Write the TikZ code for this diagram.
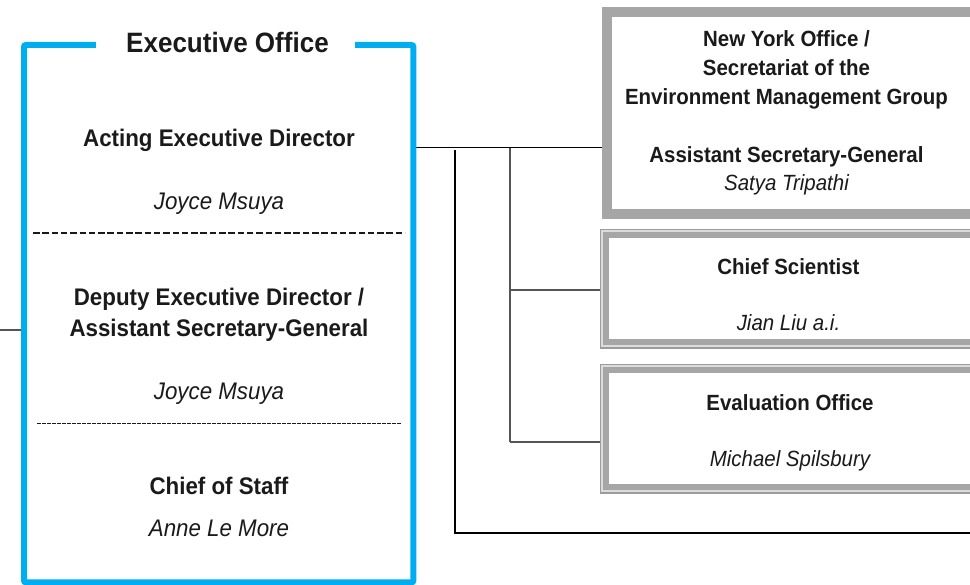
\documentclass[tikz,border=0pt]{standalone}
\usepackage{fontspec}
\setmainfont{Liberation Sans}[FakeStretch=0.93]
\usetikzlibrary{calc}
\definecolor{uneblue}{HTML}{00AEEF}
\definecolor{boxgray}{HTML}{A6A6A6}
\definecolor{edgegray}{HTML}{9C9C9C}
\definecolor{gapgray}{HTML}{DCDCDC}
\definecolor{linegray}{HTML}{555555}
\definecolor{txt}{HTML}{1A1A1A}
\begin{document}
\begin{tikzpicture}[x=1pt,y=-1pt,
  every node/.style={text=txt},
  titletext/.style={font=\fontsize{28}{32}\selectfont\bfseries, anchor=base, inner sep=0},
  role/.style={font=\fontsize{24}{30}\selectfont\bfseries, anchor=base, inner sep=0},
  person/.style={font=\fontsize{24}{30}\selectfont\itshape, anchor=base, inner sep=0},
  rrole/.style={font=\fontsize{22}{28}\selectfont\bfseries, anchor=base, inner sep=0},
  rperson/.style={font=\fontsize{22}{28}\selectfont\itshape, anchor=base, inner sep=0},
  blueframe/.style={draw=uneblue, line width=6, rounded corners=2},
  nybox/.style={draw=boxgray, line width=10, fill=white, anchor=north west, inner sep=0},
  dblbox/.style={draw=edgegray, line width=1.5, fill=gapgray, anchor=north west, inner sep=0},
  thickdash/.style={draw=txt, line width=2.6, dash pattern=on 6.5 off 2.8},
  thindash/.style={draw=txt, line width=1, dash pattern=on 3.6 off 1.4},
  link/.style={draw=black, line width=1},
  branch/.style={draw=linegray, line width=1.3},
  stub/.style={draw=linegray, line width=1.3},
  bracket/.style={draw=black, line width=2.6}
]
\useasboundingbox (0,0) rectangle (970,585);
\begin{scope}
\clip (0,0) rectangle (970,585);

% frame area of the executive office
\node[anchor=north west, minimum width=389, minimum height=537, inner sep=0] (exec) at (24,45) {};

% helper coordinates
\coordinate (hubY) at (0,148);
\coordinate (stubL) at (0,330);
\coordinate (tb) at (455,150);
\coordinate (tbEnd) at (980,533);
\coordinate (tv) at (510,148);
\coordinate (br1) at (510,290);
\coordinate (br2) at (510,442);

% right-hand boxes
\node[nybox, minimum width=380, minimum height=202] (ny) at (602,7) {};
\node[dblbox, minimum width=400, minimum height=118.5] (cs) at (599.75,228.75) {};
\draw[draw=boxgray, line width=6, fill=white]
  ($(cs.north west)+(6.5,6.5)$) rectangle ($(cs.south east)+(-6.5,-6.5)$);
\node[dblbox, minimum width=400, minimum height=128.5] (eo) at (599.75,363.75) {};
\draw[draw=boxgray, line width=6, fill=white]
  ($(eo.north west)+(6.5,6.5)$) rectangle ($(eo.south east)+(-6.5,-6.5)$);

% connectors
\draw[stub] (stubL) -- (stubL -| exec.west);
\draw[link] (exec.east |- hubY) -- (ny.west |- hubY);
\draw[bracket] (tb) -- (tb |- tbEnd) -- (tbEnd);
\draw[branch] (tv) -- (br2);
\draw[branch] (br1) -- (cs.west |- br1);
\draw[branch] (br2) -- (eo.west |- br2);

% executive office texts
\node[titletext] (title) at (227.5,53) {Executive Office};
\draw[blueframe] ([xshift=-30]title.west |- exec.north) -- (exec.north west)
  -- (exec.south west) -- (exec.south east) -- (exec.north east)
  -- ([xshift=26]title.east |- exec.north);

\node[role] (aed) at (219,147) {Acting Executive Director};
\node[person] (aedname) at (219,210) {Joyce Msuya};
\coordinate (d1a) at (33,233);
\coordinate (d1b) at (405,233);
\draw[thickdash] (d1a) -- (d1b);
\node[role] (dep1) at (219,306) {Deputy Executive Director /};
\node[role] (dep2) at (219,336.5) {Assistant Secretary-General};
\node[person] (depname) at (219,400) {Joyce Msuya};
\coordinate (d2a) at (37,424);
\coordinate (d2b) at (401,424);
\draw[thindash] (d2a) -- (d2b);
\node[role] (cos) at (219,494) {Chief of Staff};
\node[person] (cosname) at (219,536.5) {Anne Le More};

% right texts
\node[rrole] (ny1) at (786.5,46.5) {New York Office /};
\node[rrole] (ny2) at (786.5,75.5) {Secretariat of the};
\node[rrole] (ny3) at (786.5,104.5) {Environment Management Group};
\node[rrole] (ny4) at (786.5,162.5) {Assistant Secretary-General};
\node[rperson] (ny5) at (786.5,190.5) {Satya Tripathi};

\node[rrole] (csrole) at (788.5,274.5) {Chief Scientist};
\node[rperson] (csname) at (788.5,331) {Jian Liu a.i.};

\node[rrole] (eorole) at (790,410.5) {Evaluation Office};
\node[rperson] (eoname) at (790,466) {Michael Spilsbury};
\end{scope}
\end{tikzpicture}
\end{document}
